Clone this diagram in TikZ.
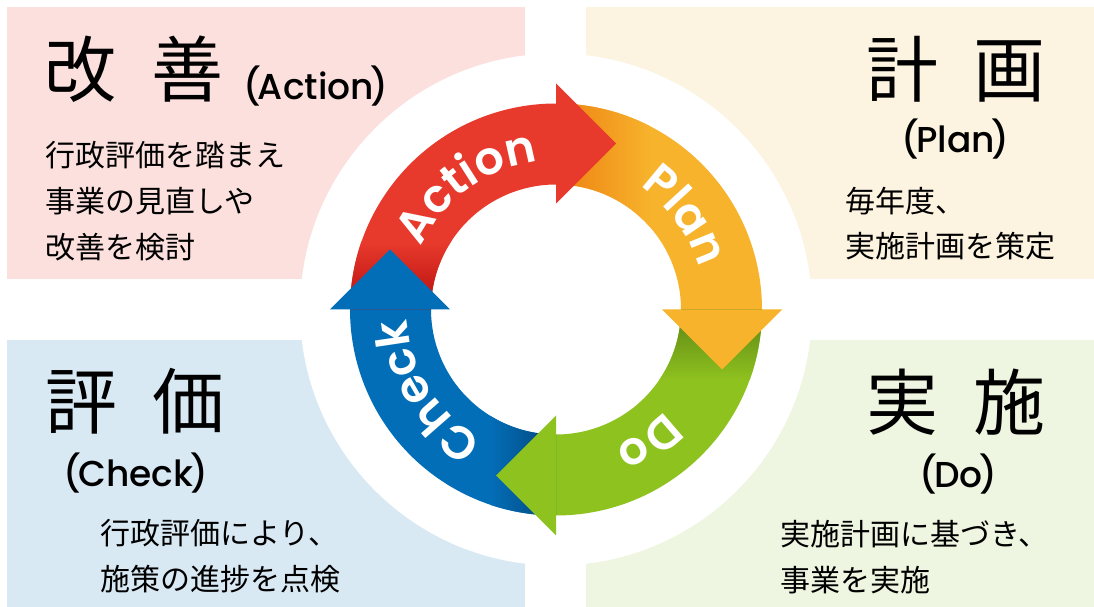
\documentclass[tikz,border=0pt]{standalone}
\usepackage{fontspec}
\setmainfont{Noto Sans CJK JP}
\newfontfamily\poppins{Poppins Medium}
\newfontfamily\popsemi{Poppins SemiBold}
\usetikzlibrary{calc,decorations.text}

\definecolor{actred}{HTML}{E83A2C}
\definecolor{actdark}{HTML}{B50D0D}
\definecolor{planorg}{HTML}{F7B32C}
\definecolor{plandark}{HTML}{EE8012}
\definecolor{dogrn}{HTML}{8EC21F}
\definecolor{dodark}{HTML}{5C8214}
\definecolor{chkblu}{HTML}{036EB8}
\definecolor{chkdark}{HTML}{03467A}
\definecolor{actbg}{HTML}{FBE0DE}
\definecolor{planbg}{HTML}{FCF3E0}
\definecolor{chkbg}{HTML}{D9E9F4}
\definecolor{dobg}{HTML}{EEF5E0}

% ring pieces round (c)
\newcommand{\ringband}[2]{($(c)+(#1:206)$) arc[start angle=#1, end angle=#2, radius=206] -- ($(c)+(#2:125)$) arc[start angle=#2, end angle=#1, radius=125] -- cycle}
\newcommand{\ringhead}[1]{($(c)+(#1:106)$) -- ($(c)+(#1:166)+(#1-90:60)$) -- ($(c)+(#1:226)$) -- cycle}
\newcommand{\ringfont}{\popsemi\fontsize{46}{46}\selectfont}
\newcommand{\paren}[1]{(\kern-3pt #1\kern-3pt)}

\begin{document}
\begin{tikzpicture}[
x=1pt,y=1pt,
title/.style={
  inner sep=0pt,
  anchor=west,
  font=\fontsize{72}{72}\selectfont
},
eng/.style={
  inner sep=0pt,
  font=\poppins\fontsize{36}{36}\selectfont
},
body/.style={
  inner sep=0pt,
  anchor=west,
  font=\fontsize{30}{30}\selectfont
},
ring/.style={
  decorate,
  decoration={text along path, text align=center, text color=white}
}
]
\useasboundingbox (0,0) rectangle (1094,607);
\coordinate (c) at (556,297.5);

% quadrants
\fill[actbg] (7,328) rectangle (525,600);
\fill[planbg] (586,328) rectangle (1094,600);
\fill[chkbg] (7,0) rectangle (525,267);
\fill[dobg] (586,0) rectangle (1094,267);
\fill[white] (c) circle[radius=256];

% cycle
\foreach \a/\b/\col in {180/89.5/actred, 90/-0.5/planorg, 0/-90.5/dogrn, -90/-180.5/chkblu}
  \fill[\col] \ringband{\a}{\b};
\begin{scope}
\clip \ringband{180}{90};
\shade[bottom color=actdark, top color=actred] (330,297.5) rectangle (460,365);
\end{scope}
\begin{scope}
\clip \ringband{90}{0};
\shade[left color=plandark, right color=planorg] (556,380) rectangle (650,510);
\end{scope}
\begin{scope}
\clip \ringband{0}{-90};
\shade[top color=dodark, bottom color=dogrn] (650,227) rectangle (770,297.5);
\end{scope}
\begin{scope}
\clip \ringband{-90}{-180};
\shade[left color=chkblu, right color=chkdark] (490,85) rectangle (556,190);
\end{scope}
\foreach \a/\col in {90/actred, 0/planorg, -90/dogrn, 180/chkblu}
  \fill[\col] \ringhead{\a};

\path[ring, decoration={text={|\ringfont|Action}}]
  ($(c)+(186:149)$) arc[start angle=186, end angle=66, radius=149];
\path[ring, decoration={text={|\ringfont|Plan}}]
  ($(c)+(96:149)$) arc[start angle=96, end angle=-24, radius=149];
\path[ring, decoration={text={|\ringfont|Do}}]
  ($(c)+(5:149)$) arc[start angle=5, end angle=-115, radius=149];
\path[ring, decoration={text={|\ringfont|Check}}]
  ($(c)+(-88:149)$) arc[start angle=-88, end angle=-208, radius=149];

% Action
\node[title] (acttitle) at (44,538) {改\hspace{35pt}善};
\node[eng, anchor=base west] (acten) at (243,507) {\paren{Action}};
\node[body] (act1) at (45,452) {行政評価を踏まえ};
\node[body] (act2) at (45,406) {事業の見直しや};
\node[body] (act3) at (45,360) {改善を検討};

% Plan
\node[title] (plantitle) at (866,538) {計\hspace{35pt}画};
\node[eng, anchor=base] (planen) at (955.5,454) {\paren{Plan}};
\node[body] (plan1) at (845,405.5) {毎年度、};
\node[body] (plan2) at (845,360.5) {実施計画を策定};

% Check
\node[title] (chktitle) at (45,205.5) {評\hspace{35pt}価};
\node[eng, anchor=base] (chken) at (136,120) {\paren{Check}};
\node[body] (chk1) at (100,74) {行政評価により、};
\node[body] (chk2) at (100,28) {施策の進捗を点検};

% Do
\node[title] (dotitle) at (866,205) {実\hspace{35pt}施};
\node[eng, anchor=base] (doen) at (958.5,119) {\paren{Do}};
\node[body] (do1) at (780,73) {実施計画に基づき、};
\node[body] (do2) at (780,27) {事業を実施};
\end{tikzpicture}
\end{document}
